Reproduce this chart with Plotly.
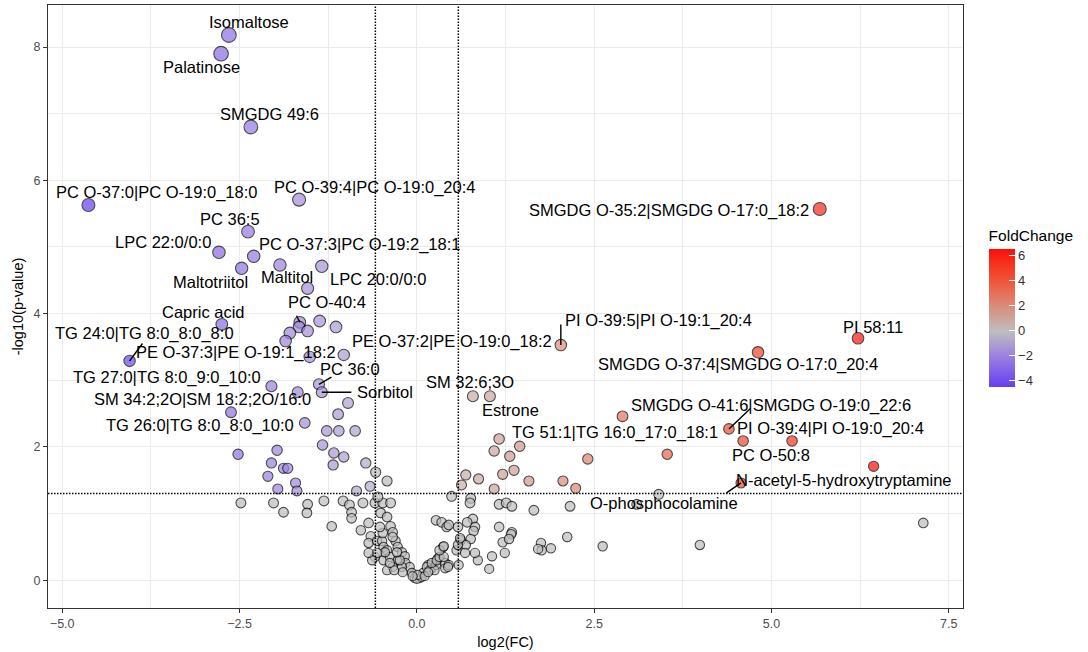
import numpy as np
import plotly.graph_objects as go

# ---------------- data ----------------
label_names = [
    "Isomaltose", "Palatinose", "SMGDG 49:6", "PC O-37:0|PC O-19:0_18:0",
    "PC O-39:4|PC O-19:0_20:4", "PC 36:5", "LPC 22:0/0:0", "PC O-37:3|PC O-19:2_18:1",
    "Maltotriitol", "Maltitol", "LPC 20:0/0:0", "PC O-40:4", "Capric acid",
    "TG 24:0|TG 8:0_8:0_8:0", "PE O-37:3|PE O-19:1_18:2", "PE O-37:2|PE O-19:0_18:2",
    "PC 36:0", "Sorbitol", "TG 27:0|TG 8:0_9:0_10:0", "SM 34:2;2O|SM 18:2;2O/16:0",
    "TG 26:0|TG 8:0_8:0_10:0", "SMGDG O-35:2|SMGDG O-17:0_18:2", "PI O-39:5|PI O-19:1_20:4",
    "PI 58:11", "SMGDG O-37:4|SMGDG O-17:0_20:4", "SM 32:6;3O", "Estrone",
    "SMGDG O-41:6|SMGDG O-19:0_22:6", "PI O-39:4|PI O-19:0_20:4", "PC O-50:8",
    "TG 51:1|TG 16:0_17:0_18:1", "N-acetyl-5-hydroxytryptamine", "O-phosphocolamine",
]
label_fc = [-2.65, -2.76, -2.34, -4.63, -1.66, -2.38, -2.79, -2.30, -2.47, -1.93, -1.34,
            -1.65, -2.75, -4.05, -1.51, -1.03, -1.38, -1.34, -2.05, -1.68, -2.62,
            5.68, 2.03, 6.22, 4.81, 0.79, 1.03, 4.40, 4.60, 5.29, 2.90, 6.44, 4.57]
label_p = [8.18, 7.90, 6.80, 5.63, 5.71, 5.23, 4.92, 4.86, 4.68, 4.73, 4.71,
           3.87, 3.84, 3.29, 3.35, 3.38, 2.94, 2.82, 2.91, 2.82, 2.52,
           5.57, 3.53, 3.63, 3.42, 2.76, 2.76, 2.27, 2.09, 2.09, 2.46, 1.71, 1.46]

# unlabeled metabolites: log2(FC)
other_fc = [
    # down-regulated
    -1.54, -1.66, -1.37, -1.14, -1.79, -1.54, -1.85, -0.97, -1.11, -1.58, -1.27, -1.10,
    -0.87, -1.33, -1.17, -1.03, -1.18, -0.72, -2.52, -1.97, -2.05, -1.88, -1.82, -2.10,
    -1.71, -1.69, -1.96, -0.85, -0.66,
    # up-regulated
    1.16, 1.09, 1.45, 1.31, 0.69, 0.87, 1.21, 1.37, 1.58, 0.63, 1.09, 2.06, 2.24, 2.41, 3.53,
    # not significant (left / centre)
    -2.48, -2.02, -1.88, -1.54, -1.55, -1.31, -1.20, -1.04, -0.95, -0.92, -0.92, -0.79,
    -0.68, -0.76, -0.59, -0.48, -0.37, -0.55, -0.51, -0.42, -0.37, -0.34, -0.65, -0.68,
    -0.56, -0.49, -0.47, -0.42, -0.30, -0.27, -0.21, -0.59, -0.47, -0.38, -0.27, -0.17,
    -0.16, -0.10, -0.21, -0.34, -0.42, -0.20, -0.07, -0.03, 0.04, 0.09, 0.16, 0.21,
    0.27, 0.30, 0.40, 0.37, 0.40, 0.27, 0.35, 0.42, -0.63, -0.48, -0.34, -0.52, -0.45,
    -0.56, -0.58, -0.42, -0.68, -0.32, -0.24, -0.38, -0.28, 0.00, 0.07, 0.14, 0.18,
    0.25, 0.21, 0.28, 0.32, 0.38, 0.32, 0.45, 0.59, 0.38, 0.01, 0.11, -0.06, 0.16,
    # not significant (right)
    0.49, 0.76, 0.75, 1.16, 1.26, 1.34, 1.65, 2.16, 3.10, 3.41, 7.14, 3.99, 2.62, 2.12,
    1.89, 1.75, 1.76, 1.34, 1.33, 1.21, 1.16, 1.06, 1.24, 0.79, 0.82, 0.58, 0.45, 0.71,
    0.80, 0.62, 0.76, 0.69, 0.56, 0.58, 0.86, 0.82, 0.68, 0.61, 0.44, 1.02, 1.30, 1.71,
]
# unlabeled metabolites: -log10(p-value)
other_p = [
    4.38, 3.80, 3.89, 3.80, 3.71, 3.74, 3.59, 2.66, 2.49, 2.36, 2.24, 2.24,
    2.24, 2.03, 1.91, 1.85, 1.73, 1.76, 1.89, 1.95, 1.76, 1.68, 1.68, 1.56,
    1.46, 1.34, 1.37, 1.34, 1.41,
    2.12, 1.94, 2.01, 1.86, 1.58, 1.52, 1.59, 1.65, 1.49, 1.43, 1.37, 1.49, 1.38, 1.82, 1.89,
    1.16, 1.16, 1.02, 1.14, 1.01, 1.19, 0.81, 1.19, 1.13, 1.02, 0.93, 0.75,
    0.86, 1.16, 1.16, 1.16, 1.16, 1.25, 1.01, 0.95, 0.81, 0.72, 0.66, 0.56,
    0.59, 0.59, 0.50, 0.45, 0.59, 0.50, 0.42, 0.35, 0.30, 0.35, 0.30, 0.36,
    0.26, 0.20, 0.20, 0.20, 0.15, 0.12, 0.11, 0.03, 0.03, 0.11, 0.23, 0.18,
    0.23, 0.33, 0.26, 0.50, 0.18, 0.90, 0.87, 0.80, 0.30, 0.71, 0.65, 0.80, 0.42,
    0.41, 1.62, 1.49, 0.41, 0.15, 0.30, 0.26, 0.42, 0.02, 0.05, 0.20, 0.15,
    0.15, 0.26, 0.30, 0.35, 0.35, 0.45, 0.23, 0.23, 0.51, 0.08, 0.06, 0.06, 0.12,
    1.26, 1.23, 1.16, 1.14, 1.16, 1.11, 1.05, 1.11, 1.14, 1.29, 0.86, 0.53, 0.51, 0.65,
    0.48, 0.56, 0.45, 0.72, 0.69, 0.57, 0.80, 0.36, 0.41, 0.92, 0.80, 0.80, 0.83, 0.87,
    0.74, 0.60, 0.62, 0.53, 0.45, 0.53, 0.30, 0.41, 0.41, 0.63, 0.20, 0.17, 0.62, 0.47,
]

fc_cut = np.log2(1.5)
p_cut = -np.log10(0.05)

# ---------------- label layout (pixel offsets of text from its point) ----------------
label_shift = [(20, 13), (-20, -13), (19, 13), (68, 12), (75, 12), (-18, 13), (-56, 10),
               (106, 12), (-31, -14), (7, -12), (56, -13), (27, 20), (-18, 12), (15, 27),
               (-74, 4), (108, 13), (31, 15), (63, 0), (-104, 9), (-95, -7), (-31, -13),
               (-151, -2), (98, 24), (15, 11), (-20, -12), (-3, 14), (21, -14), (42, 23),
               (87, 12), (-21, -14), (-8, -16), (-30, -14), (-77, -20)]
# connector segments: label index -> (dx, dy) screen pixels of segment end
segments = {13: (14, -19), 16: (14, -8), 17: (31, 0), 22: (0, -22), 27: (23, -22),
            32: (-16, 11), 11: (-4, -8)}

fc = np.array(label_fc + other_fc)
p = np.array(label_p + other_p)
sig = (np.abs(fc) > fc_cut) & (p > p_cut)

def sizes(v):
    return 9.0 + 0.7 * v

cmin, cmax = -4.45, 6.56
colorscale = [
    [0.0, "#6440F2"],
    [0.2225, "#9C80E0"],
    [0.4042, "#BEBEBE"],
    [0.5858, "#DA8C7A"],
    [0.7675, "#F0553A"],
    [0.90, "#F7301C"],
    [1.0, "#FF0A0A"],
]

FONT = "Liberation Sans, Arial, sans-serif"

fig = go.Figure()
fig.add_trace(go.Scatter(
    x=fc[~sig], y=p[~sig], mode="markers", showlegend=False, hoverinfo="x+y",
    marker=dict(color="#BDBDBD", size=sizes(p[~sig]), line=dict(color="black", width=1.1)),
))
fig.add_trace(go.Scatter(
    x=fc[sig], y=p[sig], mode="markers", showlegend=False, hoverinfo="x+y",
    marker=dict(color=fc[sig], colorscale=colorscale, cmin=cmin, cmax=cmax,
                size=sizes(p[sig]), line=dict(color="black", width=1.1),
                showscale=True,
                colorbar=dict(
                    title=dict(text="FoldChange", side="top",
                               font=dict(family=FONT, size=15.5, color="black")),
                    x=1.028, xanchor="left", xpad=0,
                    y=0.50, yanchor="middle", ypad=0,
                    thickness=26, len=160, lenmode="pixels",
                    outlinewidth=0,
                    tickvals=[-4, -2, 0, 2, 4, 6],
                    ticks="inside", ticklen=6, tickcolor="white", tickwidth=1,
                    tickfont=dict(family=FONT, size=13, color="#333333"),
                )),
))

annotations = []
for i, name in enumerate(label_names):
    dx, dy = label_shift[i]
    annotations.append(dict(
        x=label_fc[i], y=label_p[i], text=name, showarrow=False,
        xanchor="center", yanchor="middle", xshift=dx, yshift=dy,
        font=dict(family=FONT, size=16.5, color="black"),
    ))
for i, (ax, ay) in segments.items():
    annotations.append(dict(
        x=label_fc[i], y=label_p[i], text="", showarrow=True, arrowhead=0,
        arrowwidth=1.4, arrowcolor="black", ax=ax, ay=ay, standoff=0, startstandoff=0,
    ))

shapes = []
dotted = dict(color="black", width=1.5, dash="1.5px,1.5px")
for xv in (-fc_cut, fc_cut):
    shapes.append(dict(type="line", xref="x", yref="paper", x0=xv, x1=xv, y0=0, y1=1,
                       line=dotted, layer="above"))
shapes.append(dict(type="line", xref="paper", yref="y", x0=0, x1=1, y0=p_cut, y1=p_cut,
                   line=dotted, layer="above"))

axis_common = dict(
    showline=True, mirror=True, linecolor="#333333", linewidth=1.1,
    ticks="outside", ticklen=4, tickcolor="#333333", tickwidth=1.1,
    showgrid=True, gridcolor="#EBEBEB", gridwidth=1.1, zeroline=False,
    tickfont=dict(family=FONT, size=12.5, color="#4D4D4D"),
)

fig.update_layout(
    width=1088, height=652,
    margin=dict(l=48, r=125, t=5, b=44),
    paper_bgcolor="white", plot_bgcolor="white",
    font=dict(family=FONT, color="black"),
    annotations=annotations, shapes=shapes,
    xaxis=dict(axis_common, range=[-5.20, 7.70], tick0=0, dtick=2.5, tickformat=".1f",
               minor=dict(dtick=1.25, tick0=0, showgrid=True, gridcolor="#EBEBEB",
                          gridwidth=0.6, ticks=""),
               title=dict(text="log2(FC)", font=dict(family=FONT, size=14.5, color="black"),
                          standoff=6)),
    yaxis=dict(axis_common, range=[-0.416, 8.63], tick0=0, dtick=2,
               minor=dict(dtick=1, tick0=0, showgrid=True, gridcolor="#EBEBEB",
                          gridwidth=0.6, ticks=""),
               title=dict(text="-log10(p-value)", font=dict(family=FONT, size=14.5, color="black"),
                          standoff=6)),
)

fig.write_html("out.html")
